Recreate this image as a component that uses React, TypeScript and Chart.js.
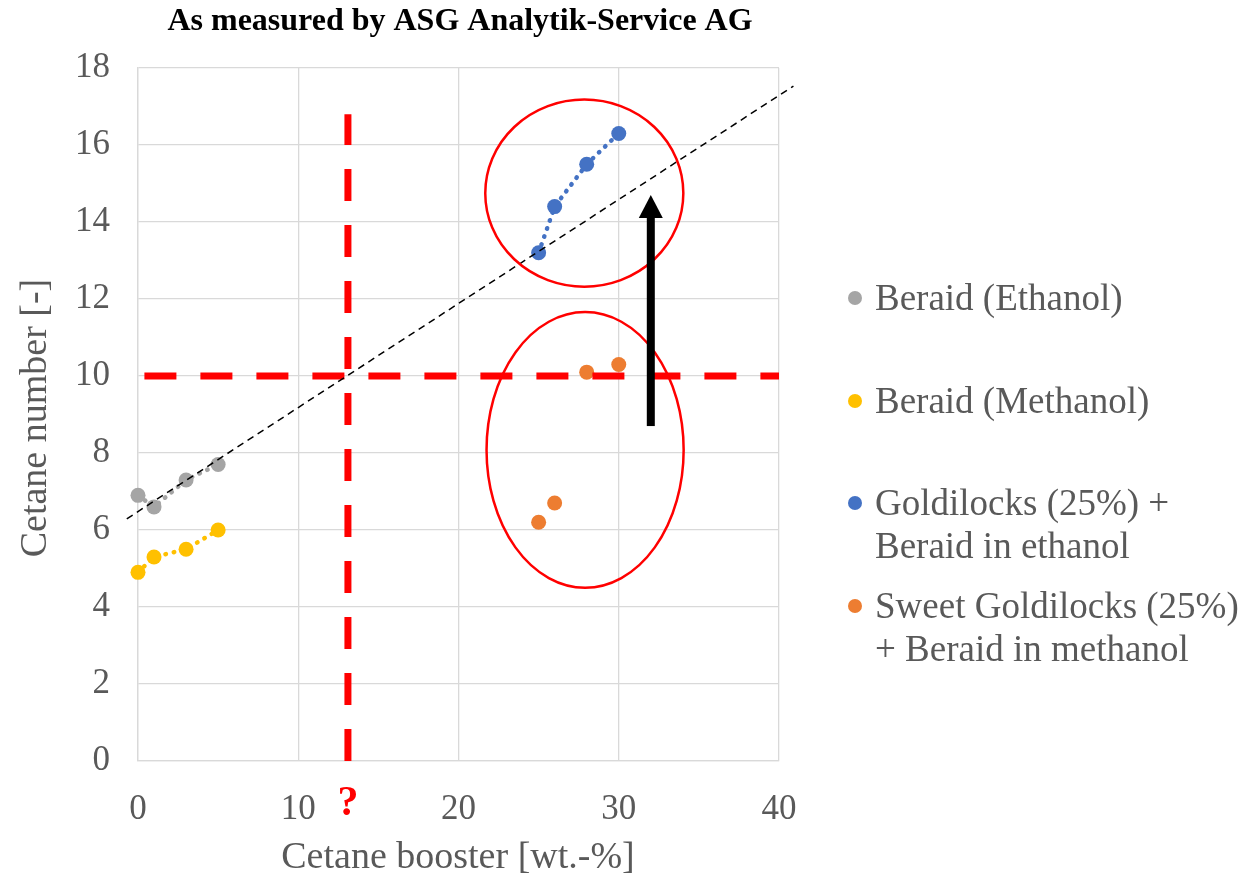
import React, { useEffect, useRef } from 'react';
import { Chart, registerables } from 'chart.js';
Chart.register(...registerables);

const chartTitle = 'As measured by ASG Analytik-Service AG';
const xAxisTitle = 'Cetane booster [wt.-%]';
const yAxisTitle = 'Cetane number [-]';

const ethanolX = [0, 1, 3, 5];
const ethanolY = [6.9, 6.6, 7.3, 7.7];
const methanolX = [0, 1, 3, 5];
const methanolY = [4.9, 5.3, 5.5, 6.0];
const goldX = [25, 26, 28, 30];
const goldY = [13.2, 14.4, 15.5, 16.3];
const sweetX = [25, 26, 28, 30];
const sweetY = [6.2, 6.7, 10.1, 10.3];

const trendX = [-0.7, 40.9];
const trendY = [6.29, 17.53];
const vLineX = [13.1, 13.1];
const vLineY = [0, 16.8];
const hLineX = [0.4, 40];
const hLineY = [10, 10];

const arrowX = 32;
const arrowFromY = 8.7;
const arrowToY = 14.7;

const ellipseCX = [27.85, 27.9];
const ellipseCY = [14.75, 8.08];
const ellipseRX = [6.18, 6.15];
const ellipseRY = [2.43, 3.58];

const legendLabels = [
  ['Beraid (Ethanol)'],
  ['Beraid (Methanol)'],
  ['Goldilocks (25%) +', 'Beraid in ethanol'],
  ['Sweet Goldilocks (25%)', '+ Beraid in methanol'],
];
const seriesColors = ['#A5A5A5', '#FFC000', '#4472C4', '#ED7D31'];

const FONT = '"Liberation Serif", serif';
const TEXT = '#595959';

const pts = (xs: number[], ys: number[]) => xs.map((x, i) => ({ x, y: ys[i] }));

const overlay = {
  id: 'overlay',
  afterDatasetsDraw(chart: any) {
    const ctx = chart.ctx as CanvasRenderingContext2D;
    const xs = chart.scales.x;
    const ys = chart.scales.y;
    ctx.save();
    // ellipses
    ctx.strokeStyle = '#FF0000';
    ctx.lineWidth = 2.5;
    for (let i = 0; i < ellipseCX.length; i++) {
      const cx = xs.getPixelForValue(ellipseCX[i]);
      const cy = ys.getPixelForValue(ellipseCY[i]);
      const rx = Math.abs(xs.getPixelForValue(ellipseCX[i] + ellipseRX[i]) - cx);
      const ry = Math.abs(ys.getPixelForValue(ellipseCY[i] + ellipseRY[i]) - cy);
      ctx.beginPath();
      ctx.ellipse(cx, cy, rx, ry, 0, 0, Math.PI * 2);
      ctx.stroke();
    }
    // arrow
    const ax = xs.getPixelForValue(arrowX);
    const ay0 = ys.getPixelForValue(arrowFromY);
    const ay1 = ys.getPixelForValue(arrowToY);
    ctx.fillStyle = '#000';
    ctx.fillRect(ax - 4, ay1 + 20, 8, ay0 - ay1 - 20);
    ctx.beginPath();
    ctx.moveTo(ax, ay1);
    ctx.lineTo(ax - 12, ay1 + 23);
    ctx.lineTo(ax + 12, ay1 + 23);
    ctx.closePath();
    ctx.fill();
    // question mark
    ctx.fillStyle = '#FF0000';
    ctx.font = `bold 42px ${FONT}`;
    ctx.textAlign = 'center';
    ctx.textBaseline = 'middle';
    ctx.fillText('?', xs.getPixelForValue(vLineX[0]), 804);
    // title
    ctx.fillStyle = '#000';
    ctx.font = `bold 32px ${FONT}`;
    ctx.fillText(chartTitle, 460, 22);
    // axis titles
    ctx.fillStyle = TEXT;
    ctx.font = `38px ${FONT}`;
    ctx.fillText(xAxisTitle, 458, 858);
    ctx.save();
    ctx.translate(36, 418);
    ctx.rotate(-Math.PI / 2);
    ctx.fillText(yAxisTitle, 0, 0);
    ctx.restore();
    // legend
    ctx.font = `37px ${FONT}`;
    const rows = [298, 401, 503, 606];
    ctx.textAlign = 'left';
    for (let i = 0; i < legendLabels.length; i++) {
      ctx.fillStyle = seriesColors[i];
      ctx.beginPath();
      ctx.arc(855, rows[i], 7, 0, Math.PI * 2);
      ctx.fill();
      ctx.fillStyle = TEXT;
      legendLabels[i].forEach((t, j) => ctx.fillText(t, 875, rows[i] + 2 + j * 43));
    }
    ctx.restore();
  },
};

export default function App() {
  const ref = useRef<HTMLCanvasElement>(null);
  useEffect(() => {
    const series = [
      { x: ethanolX, y: ethanolY, line: true },
      { x: methanolX, y: methanolY, line: true },
      { x: goldX, y: goldY, line: true },
      { x: sweetX, y: sweetY, line: false },
    ];
    const chart = new Chart(ref.current!, {
      type: 'scatter',
      data: {
        datasets: [
          {
            data: pts(trendX, trendY), showLine: true, borderColor: '#000', borderWidth: 1.5,
            borderDash: [7, 5], pointRadius: 0, clip: false as any,
          },
          {
            data: pts(hLineX, hLineY), showLine: true, borderColor: '#FF0000', borderWidth: 7,
            borderDash: [32, 24], pointRadius: 0, clip: false as any,
          },
          {
            data: pts(vLineX, vLineY), showLine: true, borderColor: '#FF0000', borderWidth: 7,
            borderDash: [32, 24], pointRadius: 0, clip: false as any,
          },
          ...series.map((s, i) => ({
            data: pts(s.x, s.y), showLine: s.line, borderColor: seriesColors[i], borderWidth: 4.5,
            borderDash: [0.5, 8], borderCapStyle: 'round' as any, pointRadius: 7.5,
            pointBackgroundColor: seriesColors[i], pointBorderWidth: 0, clip: false as any,
          })),
        ],
      },
      options: {
        animation: false,
        responsive: true,
        maintainAspectRatio: false,
        layout: { padding: { left: 0, top: 68, right: 479, bottom: 0 } },
        plugins: { legend: { display: false }, tooltip: { enabled: false } },
        scales: {
          x: {
            type: 'linear', min: 0, max: 40,
            ticks: { stepSize: 10, color: TEXT, font: { family: FONT, size: 35 }, padding: 28 },
            grid: { color: '#D9D9D9', lineWidth: 1.3, drawTicks: false },
            border: { color: '#D9D9D9', width: 1.3 },
            afterFit: (s: any) => { s.height = 118; },
          },
          y: {
            type: 'linear', min: 0, max: 18,
            ticks: { stepSize: 2, color: TEXT, font: { family: FONT, size: 35 }, padding: 28 },
            grid: { color: '#D9D9D9', lineWidth: 1.3, drawTicks: false },
            border: { color: '#D9D9D9', width: 1.3 },
            afterFit: (s: any) => { s.width = 138; },
          },
        },
      },
      plugins: [overlay],
    });
    return () => chart.destroy();
  }, []);
  return (
    <div style={{ position: 'fixed', left: 0, top: 0, width: 1258, height: 879, background: '#fff' }}>
      <canvas ref={ref} />
    </div>
  );
}
